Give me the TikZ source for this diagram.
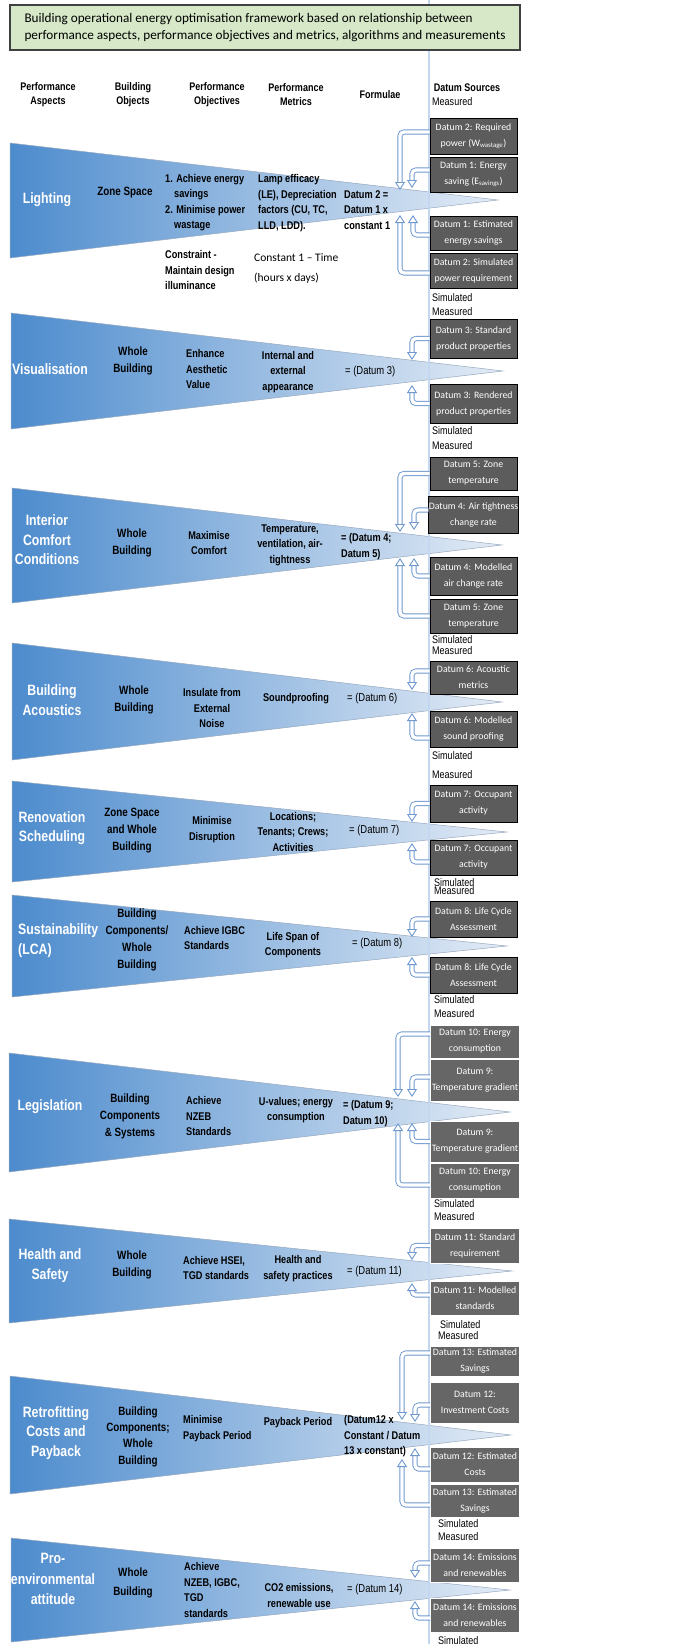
\documentclass[tikz,border=0pt]{standalone}
\usepackage{fontspec}
\setmainfont{Carlito}
\newfontfamily\narrowsans{Liberation Sans}[FakeStretch=0.82]
\usetikzlibrary{arrows.meta, positioning}

\definecolor{hdrgreen}{RGB}{214,232,200}
\definecolor{hdrline}{RGB}{64,64,64}
\definecolor{wedgeL}{RGB}{76,139,205}
\definecolor{wedgeR}{RGB}{228,236,246}
\definecolor{wedgeEdge}{RGB}{150,168,190}
\definecolor{datumgray}{RGB}{92,92,92}
\definecolor{datumflatgray}{RGB}{102,102,102}
\definecolor{arrowblue}{RGB}{110,152,206}
\definecolor{rulecol}{RGB}{196,215,240}

\tikzset{
    wedge/.style = {left color=wedgeL, right color=wedgeR, draw=wedgeEdge, line width=0.5pt},
    title/.style = {fill=hdrgreen, draw=hdrline, line width=1.2pt, minimum width=510pt,
        minimum height=45pt, align=left, font=\fontsize{13.2}{17}\selectfont},
    colhead/.style = {align=center, inner sep=0pt, font=\narrowsans\bfseries\fontsize{11}{14}\selectfont},
    aspect/.style = {text=white, align=center, inner sep=0pt,
        font=\narrowsans\bfseries\fontsize{15}{19.5}\selectfont},
    objtext/.style = {align=center, inner sep=0pt, font=\narrowsans\bfseries\fontsize{12}{17}\selectfont},
    celltext/.style = {inner sep=0pt, font=\narrowsans\bfseries\fontsize{11.2}{15.5}\selectfont},
    formtext/.style = {anchor=west, align=left, inner sep=0pt, font=\narrowsans\fontsize{11.5}{15.5}\selectfont},
    formbold/.style = {formtext, font=\narrowsans\bfseries\fontsize{11.2}{15.5}\selectfont},
    plaintext/.style = {anchor=west, align=left, inner sep=0pt, font=\fontsize{11.5}{20}\selectfont},
    source/.style = {anchor=west, inner sep=0pt, font=\narrowsans\fontsize{11}{13}\selectfont},
    datum/.style = {fill=datumgray, draw=black, line width=0.9pt, text=white, align=center,
        minimum width=87pt, inner sep=0pt, font=\fontsize{9.8}{16}\selectfont},
    datumflat/.style = {datum, fill=datumflatgray, draw=white, line width=0.6pt, minimum width=89pt},
    hollow/.style = {draw=arrowblue, line width=0.9pt, double=white, double distance=3.4pt,
        rounded corners=4pt, -{Triangle[open, length=8pt, width=10pt, fill=white]}}
}

\begin{document}
\begin{tikzpicture}[x=1pt, y=-1pt]
    \useasboundingbox (0,0) rectangle (675,1644);

    % Wedges
    \shade[wedge] (10,143) -- (498,200) -- (10,258) -- cycle;
    \shade[wedge] (11,313) -- (503,371) -- (11,429) -- cycle;
    \shade[wedge] (12,488) -- (502,545) -- (12,603) -- cycle;
    \shade[wedge] (12,643) -- (502,702) -- (12,760) -- cycle;
    \shade[wedge] (12,781) -- (507,832) -- (12,882) -- cycle;
    \shade[wedge] (12,895) -- (507,946) -- (12,997) -- cycle;
    \shade[wedge] (9,1053) -- (510,1112) -- (9,1172) -- cycle;
    \shade[wedge] (9,1219) -- (512,1271) -- (9,1323) -- cycle;
    \shade[wedge] (10,1376) -- (511,1435) -- (10,1494) -- cycle;
    \shade[wedge] (11,1538) -- (510,1590) -- (11,1642) -- cycle;

    \draw[rulecol, line width=1.2pt] (429,0) -- (429,1644);

    % Title and column heads
    \node[title] (title) at (265,27.5) {Building operational energy optimisation framework based on relationship between\\performance aspects, performance objectives and metrics, algorithms and measurements};
    \node[colhead] (hAsp) at (48,95) {Performance\\Aspects};
    \node[colhead] (hObj) at (133,95) {Building\\Objects};
    \node[colhead] (hGoal) at (217,95) {Performance\\Objectives};
    \node[colhead] (hMet) at (296,95) {Performance\\Metrics};
    \node[colhead] (hForm) at (380,95) {Formulae};
    \node[colhead] (hSrc) at (467,88) {Datum Sources};

    % Lighting
    \node[aspect] (asp1) at (47,200) {Lighting};
    \node[objtext] (obj1) at (125,193) {Zone Space};
    \node[celltext, anchor=west, align=left] (goal1) at (165,202.5) {1. Achieve energy\\\hspace*{9pt}savings\\2. Minimise power\\\hspace*{9pt}wastage};
    \node[celltext, anchor=west, align=left] (met1) at (258,203) {Lamp efficacy\\(LE), Depreciation\\factors (CU, TC,\\LLD, LDD).};
    \node[formbold] (form1) at (344,210) {Datum 2 =\\Datum 1 x\\constant 1};
    \node[celltext, anchor=west, align=left] (cons1) at (165,270) {Constraint -\\Maintain design\\illuminance};
    \node[plaintext] (const1) at (254,268) {Constant 1 -- Time\\(hours x days)};

    % Visualisation
    \node[aspect] (asp2) at (50,369) {Visualisation};
    \node[objtext] (obj2) at (133,360.5) {Whole\\Building};
    \node[celltext, anchor=west, align=left] (goal2) at (186,369) {Enhance\\Aesthetic\\Value};
    \node[celltext, align=center] (met2) at (288,372) {Internal and\\external\\appearance};
    \node[formtext] (form2) at (345,372) {= (Datum 3)};

    % Interior comfort
    \node[aspect] (asp3) at (47,540) {Interior\\Comfort\\Conditions};
    \node[objtext] (obj3) at (132,542.5) {Whole\\Building};
    \node[celltext, align=center] (goal3) at (209,543) {Maximise\\Comfort};
    \node[celltext, align=center] (met3) at (290,545) {Temperature,\\ventilation, air-\\tightness};
    \node[formbold] (form3) at (341,546.5) {= (Datum 4;\\Datum 5)};

    % Acoustics
    \node[aspect] (asp4) at (52,700) {Building\\Acoustics};
    \node[objtext] (obj4) at (134,699.5) {Whole\\Building};
    \node[celltext, align=center] (goal4) at (212,708) {Insulate from\\External\\Noise};
    \node[celltext, align=center] (met4) at (296,699) {Soundproofing};
    \node[formtext] (form4) at (347,699) {= (Datum 6)};

    % Renovation
    \node[aspect] (asp5) at (52,828) {Renovation\\Scheduling};
    \node[objtext] (obj5) at (132,830.5) {Zone Space\\and Whole\\Building};
    \node[celltext, align=center] (goal5) at (212,829.5) {Minimise\\Disruption};
    \node[celltext, align=center] (met5) at (293,831.5) {Locations;\\Tenants; Crews;\\Activities};
    \node[formtext] (form5) at (349,831) {= (Datum 7)};

    % Sustainability
    \node[aspect, anchor=west, align=left] (asp6) at (18,940.5) {Sustainability\\(LCA)};
    \node[objtext] (obj6) at (137,939.5) {Building\\Components/\\Whole\\Building};
    \node[celltext, anchor=west, align=left] (goal6) at (184,938) {Achieve IGBC\\Standards};
    \node[celltext, align=center] (met6) at (293,945) {Life Span of\\Components};
    \node[formtext] (form6) at (352,944) {= (Datum 8)};

    % Legislation
    \node[aspect] (asp7) at (50,1107) {Legislation};
    \node[objtext] (obj7) at (130,1116.5) {Building\\Components\\\& Systems};
    \node[celltext, anchor=west, align=left] (goal7) at (186,1116) {Achieve\\NZEB\\Standards};
    \node[celltext, align=center] (met7) at (296,1110) {U-values; energy\\consumption};
    \node[formbold] (form7) at (343,1113.5) {= (Datum 9;\\Datum 10)};

    % Health and safety
    \node[aspect] (asp8) at (50,1265.5) {Health and\\Safety};
    \node[objtext] (obj8) at (132,1264.5) {Whole\\Building};
    \node[celltext, anchor=west, align=left] (goal8) at (183,1268) {Achieve HSEI,\\TGD standards};
    \node[celltext, align=center] (met8) at (298,1268.5) {Health and\\safety practices};
    \node[formtext] (form8) at (347,1272) {= (Datum 11)};

    % Retrofitting
    \node[aspect] (asp9) at (56,1433) {Retrofitting\\Costs and\\Payback};
    \node[objtext, font=\narrowsans\bfseries\fontsize{12}{16.3}\selectfont] (obj9) at (138,1436.5) {Building\\Components;\\Whole\\Building};
    \node[celltext, anchor=west, align=left] (goal9) at (183,1428.5) {Minimise\\Payback Period};
    \node[celltext, align=center] (met9) at (298,1423) {Payback Period};
    \node[formbold] (form9) at (344,1436.5) {(Datum12 x\\Constant / Datum\\13 x constant)};

    % Pro-environmental
    \node[aspect, font=\narrowsans\bfseries\fontsize{15}{20.5}\selectfont] (asp10) at (53,1579) {Pro-\\environmental\\attitude};
    \node[objtext, font=\narrowsans\bfseries\fontsize{12}{19}\selectfont] (obj10) at (133,1582.5) {Whole\\Building};
    \node[celltext, anchor=west, align=left] (goal10) at (184,1590) {Achieve\\NZEB, IGBC,\\TGD\\standards};
    \node[celltext, align=center] (met10) at (299,1595.5) {CO2 emissions,\\renewable use};
    \node[formtext] (form10) at (347,1590) {= (Datum 14)};

    % Datum sources
    \node[source] (m0) at (432,102) {Measured};
    \node[source] (s1) at (432,298) {Simulated};
    \node[source] (m1) at (432,312) {Measured};
    \node[source] (s2) at (432,431) {Simulated};
    \node[source] (m2) at (432,446) {Measured};
    \node[source] (s3) at (432,640) {Simulated};
    \node[source] (m3) at (432,651) {Measured};
    \node[source] (s4) at (432,756) {Simulated};
    \node[source] (m4) at (432,775) {Measured};
    \node[source] (s5) at (434,883) {Simulated};
    \node[source] (m5) at (434,891) {Measured};
    \node[source] (s6) at (434,1000) {Simulated};
    \node[source] (m6) at (434,1014) {Measured};
    \node[source] (s7) at (434,1204) {Simulated};
    \node[source] (m7) at (434,1217) {Measured};
    \node[source] (s8) at (440,1325) {Simulated};
    \node[source] (m8) at (438,1336) {Measured};
    \node[source] (s9) at (438,1524) {Simulated};
    \node[source] (m9) at (438,1537) {Measured};
    \node[source] (s10) at (438,1641) {Simulated};

    \node[datum, minimum height=36pt] (d2r) at (473.5,136) {Datum 2: Required\\power (W\textsubscript{wastage})};
    \node[datum, minimum height=35pt] (d1e) at (473.5,174.5) {Datum 1: Energy\\saving (E\textsubscript{savings})};
    \node[datum, minimum height=34pt] (d1s) at (473.5,233) {Datum 1: Estimated\\energy savings};
    \node[datum, minimum height=35pt] (d2s) at (473.5,270.5) {Datum 2: Simulated\\power requirement};
    \node[datum, minimum height=39pt] (d3s) at (473.5,338.5) {Datum 3: Standard\\product properties};
    \node[datum, minimum height=39pt] (d3r) at (473.5,403.5) {Datum 3: Rendered\\product properties};
    \node[datum, minimum height=33pt] (d5z) at (473.5,473.5) {Datum 5: Zone\\temperature};
    \node[datum, minimum height=37pt] (d4a) at (473.5,514.5) {Datum 4: Air tightness\\change rate};
    \node[datum, minimum height=38pt] (d4m) at (473.5,576) {Datum 4: Modelled\\air change rate};
    \node[datum, minimum height=34pt] (d5t) at (473.5,616) {Datum 5: Zone\\temperature};
    \node[datum, minimum height=33pt] (d6a) at (473.5,677.5) {Datum 6: Acoustic\\metrics};
    \node[datum, minimum height=36pt] (d6m) at (473.5,729) {Datum 6: Modelled\\sound proofing};
    \node[datum, minimum height=37pt] (d7a) at (473.5,803.5) {Datum 7: Occupant\\activity};
    \node[datum, minimum height=35pt] (d7b) at (473.5,857.5) {Datum 7: Occupant\\activity};
    \node[datum, minimum height=36pt] (d8a) at (473.5,919) {Datum 8: Life Cycle\\Assessment};
    \node[datum, minimum height=36pt] (d8b) at (473.5,975) {Datum 8: Life Cycle\\Assessment};
    \node[datumflat, minimum height=33pt] (d10a) at (475,1041.5) {Datum 10: Energy\\consumption};
    \node[datumflat, minimum height=42pt] (d9a) at (475,1080) {Datum 9:\\Temperature gradient};
    \node[datumflat, minimum height=41pt] (d9b) at (475,1141.5) {Datum 9:\\Temperature gradient};
    \node[datumflat, minimum height=35pt] (d10b) at (475,1180.5) {Datum 10: Energy\\consumption};
    \node[datumflat, minimum height=35pt] (d11s) at (475,1245.5) {Datum 11: Standard\\requirement};
    \node[datumflat, minimum height=34pt] (d11m) at (475,1298) {Datum 11: Modelled\\standards};
    \node[datumflat, minimum height=30pt] (d13a) at (475,1361) {Datum 13: Estimated\\Savings};
    \node[datumflat, minimum height=41pt] (d12i) at (475,1402.5) {Datum 12:\\Investment Costs};
    \node[datumflat, minimum height=35pt] (d12e) at (475,1464.5) {Datum 12: Estimated\\Costs};
    \node[datumflat, minimum height=33pt] (d13b) at (475,1500.5) {Datum 13: Estimated\\Savings};
    \node[datumflat, minimum height=34pt] (d14a) at (475,1565) {Datum 14: Emissions\\and renewables};
    \node[datumflat, minimum height=34pt] (d14b) at (475,1615) {Datum 14: Emissions\\and renewables};

    % Arrow ends on the wedges
    \coordinate (t2r) at (400,190);
    \coordinate (t1e) at (412,188);
    \coordinate (t1s) at (413,215);
    \coordinate (t2s) at (400,215);
    \coordinate (t3s) at (412,360);
    \coordinate (t3r) at (412,385);
    \coordinate (t5z) at (400,532);
    \coordinate (t4a) at (414,530);
    \coordinate (t4m) at (414,558);
    \coordinate (t5t) at (400,558);
    \coordinate (t6a) at (412,690);
    \coordinate (t6m) at (412,713);
    \coordinate (t7a) at (412,822);
    \coordinate (t7b) at (412,843);
    \coordinate (t8a) at (412,937);
    \coordinate (t8b) at (412,957);
    \coordinate (t10a) at (398,1097);
    \coordinate (t9a) at (412,1097);
    \coordinate (t9b) at (412,1123);
    \coordinate (t10b) at (398,1123);
    \coordinate (t11s) at (412,1260);
    \coordinate (t11m) at (412,1283);
    \coordinate (t13a) at (402,1420);
    \coordinate (t12i) at (415,1422);
    \coordinate (t12e) at (415,1448);
    \coordinate (t13b) at (402,1459);
    \coordinate (t14a) at (415,1578);
    \coordinate (t14b) at (415,1601);

    % Arrows
    \draw[hollow] ([yshift=4pt]d2r.west) -| (t2r);
    \draw[hollow] ([yshift=4.5pt]d1e.west) -| (t1e);
    \draw[hollow] ([yshift=-2pt]d1s.west) -| (t1s);
    \draw[hollow] ([yshift=-2.5pt]d2s.west) -| (t2s);
    \draw[hollow] (d3s.west) -| (t3s);
    \draw[hollow] (d3r.west) -| (t3r);
    \draw[hollow] (d5z.west) -| (t5z);
    \draw[hollow] ([yshift=4.5pt]d4a.west) -| (t4a);
    \draw[hollow] (d4m.west) -| (t4m);
    \draw[hollow] (d5t.west) -| (t5t);
    \draw[hollow] ([yshift=6.5pt]d6a.west) -| (t6a);
    \draw[hollow] ([yshift=-9pt]d6m.west) -| (t6m);
    \draw[hollow] (d7a.west) -| (t7a);
    \draw[hollow] ([yshift=-4.5pt]d7b.west) -| (t7b);
    \draw[hollow] (d8a.west) -| (t8a);
    \draw[hollow] (d8b.west) -| (t8b);
    \draw[hollow] ([yshift=7.5pt]d10a.west) -| (t10a);
    \draw[hollow] ([yshift=3pt]d9a.west) -| (t9a);
    \draw[hollow] (d9b.west) -| (t9b);
    \draw[hollow] ([yshift=-4.5pt]d10b.west) -| (t10b);
    \draw[hollow] (d11s.west) -| (t11s);
    \draw[hollow] ([yshift=3pt]d11m.west) -| (t11m);
    \draw[hollow] ([yshift=8pt]d13a.west) -| (t13a);
    \draw[hollow] ([yshift=-2.5pt]d12i.west) -| (t12i);
    \draw[hollow] ([yshift=-4.5pt]d12e.west) -| (t12e);
    \draw[hollow] ([yshift=-4.5pt]d13b.west) -| (t13b);
    \draw[hollow] ([yshift=2pt]d14a.west) -| (t14a);
    \draw[hollow] ([yshift=-3pt]d14b.west) -| (t14b);
\end{tikzpicture}
\end{document}
